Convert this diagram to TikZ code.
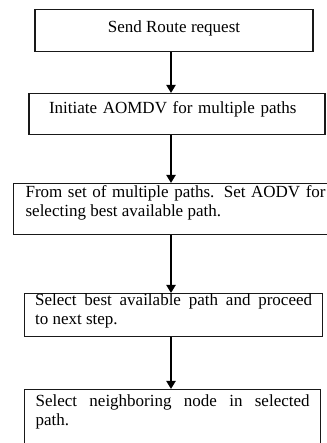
\documentclass[tikz,border=0pt]{standalone}
\usepackage{fontspec}
\setmainfont{Liberation Serif}
\usetikzlibrary{arrows.meta}

\begin{document}
\begin{tikzpicture}[x=1pt,y=1pt,
  stepbox/.style={draw=black!90, line width=1.2pt, inner ysep=0pt, font=\fontsize{17}{19}\selectfont},
  flow/.style={-{Triangle[length=8pt,width=9pt]}, black, line width=2.4pt}]

\useasboundingbox (0,0) rectangle (326,443);

\node[stepbox, anchor=north, minimum width=278pt, inner xsep=0pt, text height=23pt, text depth=19pt] (send) at (174,434) {Send Route request};

\node[stepbox, anchor=north, text width=256pt, inner xsep=20pt, align=left, text height=20pt, text depth=21pt] (init) at (177,350) {Initiate AOMDV for multiple paths};

\node[stepbox, anchor=north west, text width=300pt, inner xsep=12pt, align=justify, text height=14pt, text depth=37pt] (aodv) at (13,260) {From set of multiple paths. Set AODV for\linebreak selecting best available path.};

\node[stepbox, anchor=north west, text width=277pt, inner xsep=10.5pt, align=justify, text height=12pt, text depth=31pt] (best) at (24,150) {Select best available path and proceed\linebreak to next step.};

\node[stepbox, anchor=north west, text width=274pt, inner xsep=11pt, align=justify, text height=17pt, text depth=44pt] (neigh) at (24,54) {Select neighboring node in selected\linebreak path.};

\coordinate (axis) at (171,0);

\draw[flow] (send.south -| axis) -- (init.north -| axis);
\draw[flow] (init.south -| axis) -- (aodv.north -| axis);
\draw[flow] (aodv.south -| axis) -- (best.north -| axis);
\draw[flow] (best.south -| axis) -- (neigh.north -| axis);
\end{tikzpicture}
\end{document}
